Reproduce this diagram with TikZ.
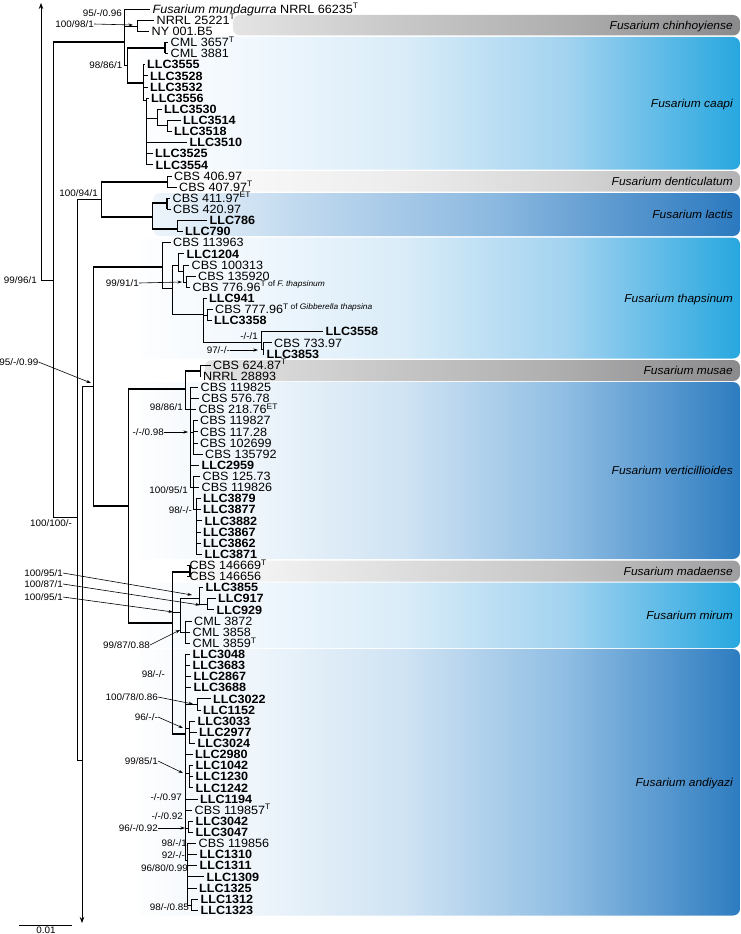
\documentclass[tikz,border=0pt]{standalone}
\usepackage{fontspec}
\setmainfont[FakeStretch=1.05]{Liberation Sans}
\usetikzlibrary{arrows.meta}
\definecolor{bb1}{HTML}{F0F7FD}\definecolor{bb2}{HTML}{D9ECF8}\definecolor{bb3}{HTML}{A3D3F0}\definecolor{bb4}{HTML}{27A7DF}
\definecolor{db1}{HTML}{EEF5FB}\definecolor{db2}{HTML}{CFE3F3}\definecolor{db3}{HTML}{8FBDE3}\definecolor{db4}{HTML}{2D7CC0}
\definecolor{ds1}{HTML}{EEF5FB}\definecolor{ds2}{HTML}{C2DAEF}\definecolor{ds3}{HTML}{8CB9E0}\definecolor{ds4}{HTML}{2B79BF}
\definecolor{gd1}{HTML}{E4E4E4}\definecolor{gd2}{HTML}{CACACA}\definecolor{gd3}{HTML}{B0B0B1}\definecolor{gd4}{HTML}{8A8A8C}
\definecolor{gl1}{HTML}{F7F7F7}\definecolor{gl2}{HTML}{ECECEC}\definecolor{gl3}{HTML}{D6D6D6}\definecolor{gl4}{HTML}{B3B3B5}
\definecolor{gm1}{HTML}{F3F3F3}\definecolor{gm2}{HTML}{DDDDDD}\definecolor{gm3}{HTML}{C4C4C5}\definecolor{gm4}{HTML}{9E9EA0}
\pgfdeclarehorizontalshading{shBB}{100bp}{color(0bp)=(white); color(25bp)=(white); color(36bp)=(bb1); color(48bp)=(bb2); color(61bp)=(bb3); color(75bp)=(bb4); color(100bp)=(bb4)}
\pgfdeclarehorizontalshading{shDB}{100bp}{color(0bp)=(white); color(25bp)=(white); color(36bp)=(db1); color(48bp)=(db2); color(61bp)=(db3); color(75bp)=(db4); color(100bp)=(db4)}
\pgfdeclarehorizontalshading{shDS}{100bp}{color(0bp)=(ds1); color(25bp)=(ds1); color(37bp)=(ds2); color(54bp)=(ds3); color(75bp)=(ds4); color(100bp)=(ds4)}
\pgfdeclarehorizontalshading{shGD}{100bp}{color(0bp)=(gd1); color(25bp)=(gd1); color(40bp)=(gd2); color(57bp)=(gd3); color(75bp)=(gd4); color(100bp)=(gd4)}
\pgfdeclarehorizontalshading{shGL}{100bp}{color(0bp)=(white); color(25bp)=(white); color(36bp)=(gl1); color(48bp)=(gl2); color(61bp)=(gl3); color(75bp)=(gl4); color(100bp)=(gl4)}
\pgfdeclarehorizontalshading{shGM}{100bp}{color(0bp)=(white); color(25bp)=(white); color(36bp)=(gm1); color(48bp)=(gm2); color(61bp)=(gm3); color(75bp)=(gm4); color(100bp)=(gm4)}
\newcommand\band[7]{% ytop ybot xclip xshade shading label name
  \begin{scope}
    \clip (#3,#1) rectangle (740,#2);
    \shade[shading=#5, rounded corners=7pt] (#4,#1) rectangle (740,#2);
  \end{scope}
  \node[cladelab] (#7) at (733,{(#1+#2)/2}) {#6};
}
\newcommand\E[2]{\draw[tree] (#1) |- (#2);}
\newcommand\T[2]{\draw[tree] (#1) |- (#2); \draw[thk] (#1 |- #2) -- (#2);}
\newcommand\sT{\textsuperscript{T}}
\newcommand\sET{\textsuperscript{ET}}
\begin{document}
\begin{tikzpicture}[x=1pt,y=-1pt,
  tree/.style={line width=0.8pt},
  thk/.style={line width=2.8pt},
  leaf/.style={anchor=west, inner xsep=2.5pt, inner ysep=0pt, text height=8.5pt, text depth=0pt, font=\fontsize{12}{12}\selectfont},
  bleaf/.style={leaf, font=\fontsize{12}{12}\selectfont\bfseries},
  cladelab/.style={anchor=east, inner sep=0pt, text height=8.5pt, text depth=0pt, font=\fontsize{11.4}{12}\selectfont\itshape},
  sup/.style={anchor=east, inner sep=0pt, text height=6.6pt, text depth=0pt, font=\fontsize{9.4}{10}\selectfont},
  sarrow/.style={line width=0.6pt, -{Stealth[length=4.5pt,width=3pt]}},
  rootarrow/.style={line width=0.8pt, -{Stealth[length=6pt,width=4.5pt]}}]
\useasboundingbox (0,0) rectangle (740,934);
% ---------- clade bands
\band{15}{35.5}{233}{233}{shGD}{Fusarium chinhoyiense}{c1}
\band{37}{169.5}{140}{120}{shBB}{Fusarium caapi}{c2}
\band{171}{191.5}{167}{120}{shGL}{Fusarium denticulatum}{c3}
\band{193}{236}{153}{153}{shDS}{Fusarium lactis}{c4}
\band{237.5}{358.5}{140}{120}{shBB}{Fusarium thapsinum}{c5}
\band{360}{381}{205}{205}{shGD}{Fusarium musae}{c6}
\band{382}{559}{140}{120}{shDB}{Fusarium verticillioides}{c7}
\band{560.5}{581.5}{190}{120}{shGM}{Fusarium madaense}{c8}
\band{582.5}{648}{140}{120}{shBB}{Fusarium mirum}{c9}
\band{649}{915.5}{140}{120}{shDB}{Fusarium andiyazi}{c10}
% ---------- leaves
\node[leaf] (L1) at (150,9) {\textit{Fusarium mundagurra} NRRL 66235\sT};
\node[leaf] (L2) at (154,20.1) {NRRL 25221\sT};
\node[leaf] (L3) at (149,31.3) {NY 001.B5};
\node[leaf] (L4) at (168,42.4) {CML 3657\sT};
\node[leaf] (L5) at (168,53.5) {CML 3881};
\node[bleaf] (L6) at (144.5,64.6) {LLC3555};
\node[bleaf] (L7) at (147.5,75.8) {LLC3528};
\node[bleaf] (L8) at (147.5,86.9) {LLC3532};
\node[bleaf] (L9) at (148.5,98) {LLC3556};
\node[bleaf] (L10) at (161.5,109.1) {LLC3530};
\node[bleaf] (L11) at (180.5,120.3) {LLC3514};
\node[bleaf] (L12) at (171.5,131.4) {LLC3518};
\node[bleaf] (L13) at (187,142.5) {LLC3510};
\node[bleaf] (L14) at (152.5,153.6) {LLC3525};
\node[bleaf] (L15) at (153,164.8) {LLC3554};
\node[leaf] (L16) at (171.5,175.9) {CBS 406.97};
\node[leaf] (L17) at (176.5,187) {CBS 407.97\sT};
\node[leaf] (L18) at (170,198.1) {CBS 411.97\sET};
\node[leaf] (L19) at (170.5,209.3) {CBS 420.97};
\node[bleaf] (L20) at (207,220.4) {LLC786};
\node[bleaf] (L21) at (182.5,231.5) {LLC790};
\node[leaf] (L22) at (170.5,242.6) {CBS 113963};
\node[bleaf] (L23) at (184,253.8) {LLC1204};
\node[leaf] (L24) at (189,264.9) {CBS 100313};
\node[leaf] (L25) at (195.5,276) {CBS 135920};
\node[leaf] (L26) at (190,287.1) {CBS 776.96\textsuperscript{T of \textit{F. thapsinum}}};
\node[bleaf] (L27) at (206.5,298.3) {LLC941};
\node[leaf] (L28) at (212.5,309.4) {CBS 777.96\textsuperscript{T of \textit{Gibberella thapsina}}};
\node[bleaf] (L29) at (211.5,320.5) {LLC3358};
\node[bleaf] (L30) at (323,331.6) {LLC3558};
\node[leaf] (L31) at (271.5,342.8) {CBS 733.97};
\node[bleaf] (L32) at (264,353.9) {LLC3853};
\node[leaf] (L33) at (210.5,365) {CBS 624.87\sT};
\node[leaf] (L34) at (200.5,376.1) {NRRL 28893};
\node[leaf] (L35) at (198,387.3) {CBS 119825};
\node[leaf] (L36) at (199,398.4) {CBS 576.78};
\node[leaf] (L37) at (196,409.5) {CBS 218.76\sET};
\node[leaf] (L38) at (197.5,420.6) {CBS 119827};
\node[leaf] (L39) at (197.5,431.8) {CBS 117.28};
\node[leaf] (L40) at (197.5,442.9) {CBS 102699};
\node[leaf] (L41) at (202.5,454) {CBS 135792};
\node[bleaf] (L42) at (199,465.1) {LLC2959};
\node[leaf] (L43) at (200,476.3) {CBS 125.73};
\node[leaf] (L44) at (199,487.4) {CBS 119826};
\node[bleaf] (L45) at (200.5,498.5) {LLC3879};
\node[bleaf] (L46) at (200.5,509.6) {LLC3877};
\node[bleaf] (L47) at (202,520.8) {LLC3882};
\node[bleaf] (L48) at (200.5,531.9) {LLC3867};
\node[bleaf] (L49) at (200.5,543) {LLC3862};
\node[bleaf] (L50) at (202,554.1) {LLC3871};
\node[leaf] (L51) at (187,565.3) {CBS 146669\sT};
\node[leaf] (L52) at (187,576.4) {CBS 146656};
\node[bleaf] (L53) at (203,587.5) {LLC3855};
\node[bleaf] (L54) at (215.5,598.6) {LLC917};
\node[bleaf] (L55) at (214,609.8) {LLC929};
\node[leaf] (L56) at (191.5,620.9) {CML 3872};
\node[leaf] (L57) at (190,632) {CML 3858};
\node[leaf] (L58) at (190,643.1) {CML 3859\sT};
\node[bleaf] (L59) at (190,654.3) {LLC3048};
\node[bleaf] (L60) at (190,665.4) {LLC3683};
\node[bleaf] (L61) at (191,676.5) {LLC2867};
\node[bleaf] (L62) at (191,687.6) {LLC3688};
\node[bleaf] (L63) at (210.5,698.8) {LLC3022};
\node[bleaf] (L64) at (200.5,709.9) {LLC1152};
\node[bleaf] (L65) at (195,721) {LLC3033};
\node[bleaf] (L66) at (196.5,732.1) {LLC2977};
\node[bleaf] (L67) at (195,743.3) {LLC3024};
\node[bleaf] (L68) at (192.5,754.4) {LLC2980};
\node[bleaf] (L69) at (193,765.5) {LLC1042};
\node[bleaf] (L70) at (193,776.6) {LLC1230};
\node[bleaf] (L71) at (193,787.8) {LLC1242};
\node[bleaf] (L72) at (197.5,798.9) {LLC1194};
\node[leaf] (L73) at (192,810) {CBS 119857\sT};
\node[bleaf] (L74) at (193,821.1) {LLC3042};
\node[bleaf] (L75) at (193,832.3) {LLC3047};
\node[leaf] (L76) at (196,843.4) {CBS 119856};
\node[bleaf] (L77) at (197,854.5) {LLC1310};
\node[bleaf] (L78) at (197,865.6) {LLC1311};
\node[bleaf] (L79) at (204,876.8) {LLC1309};
\node[bleaf] (L80) at (196.5,887.9) {LLC1325};
\node[bleaf] (L81) at (198,899) {LLC1312};
\node[bleaf] (L82) at (198,910.1) {LLC1323};
% ---------- internal nodes
\coordinate (up) at (41,3);
\coordinate (r0) at (41,280);
\coordinate (n53) at (53,280);
\coordinate (n77) at (77,517);
\coordinate (n82) at (82,760);
\coordinate (dn) at (82,923);
\coordinate (n93) at (93,386);
\coordinate (n101) at (101,199);
\coordinate (n128) at (128,506);
\coordinate (nA) at (124,42);
\coordinate (nChin) at (137,26);
\coordinate (nCa) at (127,65);
\coordinate (nCML) at (165,48);
\coordinate (nLLC) at (143,83);
\coordinate (nC3) at (146,100);
\coordinate (nC4) at (157,118);
\coordinate (nC5) at (167,125);
\coordinate (nDen) at (167,182);
\coordinate (nLac) at (152,217);
\coordinate (nLac1) at (167,203);
\coordinate (nLac2) at (177,229);
\coordinate (nTh) at (162,267);
\coordinate (nTh1) at (172,288);
\coordinate (nTh2) at (178,265);
\coordinate (nTh3) at (183,271);
\coordinate (nTh4) at (186,282);
\coordinate (nTh5) at (203,314);
\coordinate (nTh6) at (207,315);
\coordinate (nTh7) at (261,342);
\coordinate (nTh8) at (263,349);
\coordinate (nMV) at (185,389);
\coordinate (nMus) at (200,371);
\coordinate (nV1) at (190,409);
\coordinate (nV2) at (193,432);
\coordinate (nV3) at (193,487);
\coordinate (nV4) at (196,509);
\coordinate (nMA) at (172,623);
\coordinate (nMad) at (190,572);
\coordinate (nMi0) at (180,612);
\coordinate (nMi1) at (199,598);
\coordinate (nMi2) at (207,604);
\coordinate (nCMLm) at (185,632);
\coordinate (nAnd) at (185,734);
\coordinate (nA1) at (197,704);
\coordinate (nA2) at (189,728);
\coordinate (nA3) at (189,773);
\coordinate (nA4) at (188,828);
\coordinate (nA5) at (187,860);
\coordinate (nA6) at (191,905);
% ---------- backbone
\draw[rootarrow] (r0) -- (up);
\draw[tree] (r0) -- (n53);
\T{n53}{nA}
\E{n53}{n77}
\E{n77}{n101}
\E{n77}{n82}
\E{n82}{n93}
\draw[rootarrow] (n82) -- (dn);
\T{n93}{nTh}
\T{n93}{n128}
\T{n128}{nMV}
\T{n128}{nMA}
% chinhoyiense / caapi
\E{nA}{L1.west}
\E{nA}{nChin}
\E{nA}{nCa}
\E{nChin}{L2.west}
\E{nChin}{L3.west}
\T{nCa}{nCML}
\T{nCa}{nLLC}
\draw[thk] (nCML |- L4.west) -- (nCML |- L5.west);
\E{nCML}{L4.west}
\E{nCML}{L5.west}
\E{nLLC}{L6.west}
\E{nLLC}{L7.west}
\E{nLLC}{L8.west}
\E{nLLC}{nC3}
\E{nC3}{L9.west}
\E{nC3}{nC4}
\E{nC3}{L13.west}
\E{nC3}{L14.west}
\E{nC3}{L15.west}
\E{nC4}{L10.west}
\E{nC4}{nC5}
\E{nC5}{L11.west}
\E{nC5}{L12.west}
% denticulatum / lactis
\T{n101}{nDen}
\T{n101}{nLac}
\E{nDen}{L16.west}
\E{nDen}{L17.west}
\T{nLac}{nLac1}
\T{nLac}{nLac2}
\draw[thk] (nLac1 |- L18.west) -- (nLac1 |- L19.west);
\E{nLac1}{L18.west}
\E{nLac1}{L19.west}
\E{nLac2}{L20.west}
\E{nLac2}{L21.west}
% thapsinum
\E{nTh}{L22.west}
\E{nTh}{nTh1}
\E{nTh1}{nTh2}
\E{nTh1}{nTh5}
\E{nTh2}{L23.west}
\E{nTh2}{nTh3}
\E{nTh3}{L24.west}
\E{nTh3}{nTh4}
\E{nTh4}{L25.west}
\E{nTh4}{L26.west}
\E{nTh5}{L27.west}
\E{nTh5}{nTh6}
\E{nTh5}{nTh7}
\E{nTh6}{L28.west}
\E{nTh6}{L29.west}
\E{nTh7}{L30.west}
\E{nTh7}{nTh8}
\E{nTh8}{L31.west}
\E{nTh8}{L32.west}
% musae / verticillioides
\T{nMV}{nMus}
\E{nMV}{nV1}
\E{nMus}{L33.west}
\E{nMus}{L34.west}
\E{nV1}{L35.west}
\E{nV1}{L36.west}
\E{nV1}{L37.west}
\E{nV1}{nV2}
\E{nV1}{L42.west}
\E{nV1}{nV3}
\E{nV2}{L38.west}
\E{nV2}{L39.west}
\E{nV2}{L40.west}
\E{nV2}{L41.west}
\E{nV3}{L43.west}
\E{nV3}{L44.west}
\E{nV3}{nV4}
\foreach \k in {45,...,50} {\E{nV4}{L\k.west}}
% madaense / mirum / andiyazi
\T{nMA}{nMad}
\E{nMA}{nMi0}
\T{nMA}{nAnd}
\draw[thk] (nMad |- L51.west) -- (nMad |- L52.west);
\E{nMad}{L51.west}
\E{nMad}{L52.west}
\E{nMi0}{nMi1}
\E{nMi0}{nCMLm}
\E{nMi1}{L53.west}
\E{nMi1}{nMi2}
\E{nMi2}{L54.west}
\E{nMi2}{L55.west}
\E{nCMLm}{L56.west}
\E{nCMLm}{L57.west}
\E{nCMLm}{L58.west}
\foreach \k in {59,60,61,62,68,72,73} {\E{nAnd}{L\k.west}}
\E{nAnd}{nA1}
\E{nAnd}{nA2}
\E{nAnd}{nA3}
\E{nAnd}{nA4}
\E{nAnd}{nA5}
\E{nA1}{L63.west}
\E{nA1}{L64.west}
\foreach \k in {65,66,67} {\E{nA2}{L\k.west}}
\foreach \k in {69,70,71} {\E{nA3}{L\k.west}}
\foreach \k in {74,75} {\E{nA4}{L\k.west}}
\foreach \k in {76,...,80} {\E{nA5}{L\k.west}}
\E{nA5}{nA6}
\E{nA6}{L81.west}
\E{nA6}{L82.west}
% ---------- support values
\node[sup] (s1) at (122,13) {95/-/0.96};
\node[sup] (s2) at (94,24) {100/98/1};
\coordinate (s2t) at (133,25);
\draw[sarrow] (s2.east) -- (s2t);
\node[sup] (s3) at (122.5,65) {98/86/1};
\node[sup] (s4) at (98,193) {100/94/1};
\node[sup] (s5) at (37,280) {99/96/1};
\node[sup] (s6) at (139,283) {99/91/1};
\coordinate (s6t) at (182,282);
\draw[sarrow] (s6.east) -- (s6t);
\node[sup] (s7) at (258,336) {-/-/1};
\node[sup] (s8) at (230,350) {97/-/-};
\coordinate (s8t) at (258,350);
\draw[sarrow] (s8.east) -- (s8t);
\node[sup] (s9) at (38.5,362) {95/-/0.99};
\coordinate (s9t) at (91,383);
\draw[sarrow] (s9.east) -- (s9t);
\node[sup] (s10) at (72,523) {100/100/-};
\node[sup] (s11) at (183,407) {98/86/1};
\node[sup] (s12) at (164,432) {-/-/0.98};
\coordinate (s12t) at (188,432);
\draw[sarrow] (s12.east) -- (s12t);
\node[sup] (s13) at (188,490) {100/95/1};
\node[sup] (s14) at (192,510) {98/-/-};
\node[sup] (s15) at (63,573) {100/95/1};
\coordinate (s15t) at (192,595);
\draw[sarrow] (s15.east) -- (s15t);
\node[sup] (s16) at (63,584) {100/87/1};
\coordinate (s16t) at (200,605);
\draw[sarrow] (s16.east) -- (s16t);
\node[sup] (s17) at (63,597) {100/95/1};
\coordinate (s17t) at (173,612);
\draw[sarrow] (s17.east) -- (s17t);
\node[sup] (s18) at (150,645) {99/87/0.88};
\coordinate (s18t) at (180,630);
\draw[sarrow] (s18.east) -- (s18t);
\node[sup] (s19) at (165,674) {98/-/-};
\node[sup] (s20) at (158,697) {100/78/0.86};
\coordinate (s20t) at (193,704);
\draw[sarrow] (s20.east) -- (s20t);
\node[sup] (s21) at (158,717) {96/-/-};
\coordinate (s21t) at (183,728);
\draw[sarrow] (s21.east) -- (s21t);
\node[sup] (s22) at (158,761) {99/85/1};
\coordinate (s22t) at (183,773);
\draw[sarrow] (s22.east) -- (s22t);
\node[sup] (s23) at (182,797) {-/-/0.97};
\node[sup] (s24) at (183,816) {-/-/0.92};
\node[sup] (s25) at (158,828) {96/-/0.92};
\coordinate (s25t) at (185,828);
\draw[sarrow] (s25.east) -- (s25t);
\node[sup] (s26) at (187,843) {98/-/1};
\node[sup] (s27) at (185,855) {92/-/-};
\node[sup] (s28) at (188,868) {96/80/0.99};
\node[sup] (s29) at (189,907) {98/-/0.85};
% ---------- scale bar
\coordinate (sb1) at (19,925);
\coordinate (sb2) at (72,925);
\draw[tree] (sb1) -- (sb2);
\node[sup, anchor=north] (sbl) at (46,926.5) {0.01};
\end{tikzpicture}
\end{document}
